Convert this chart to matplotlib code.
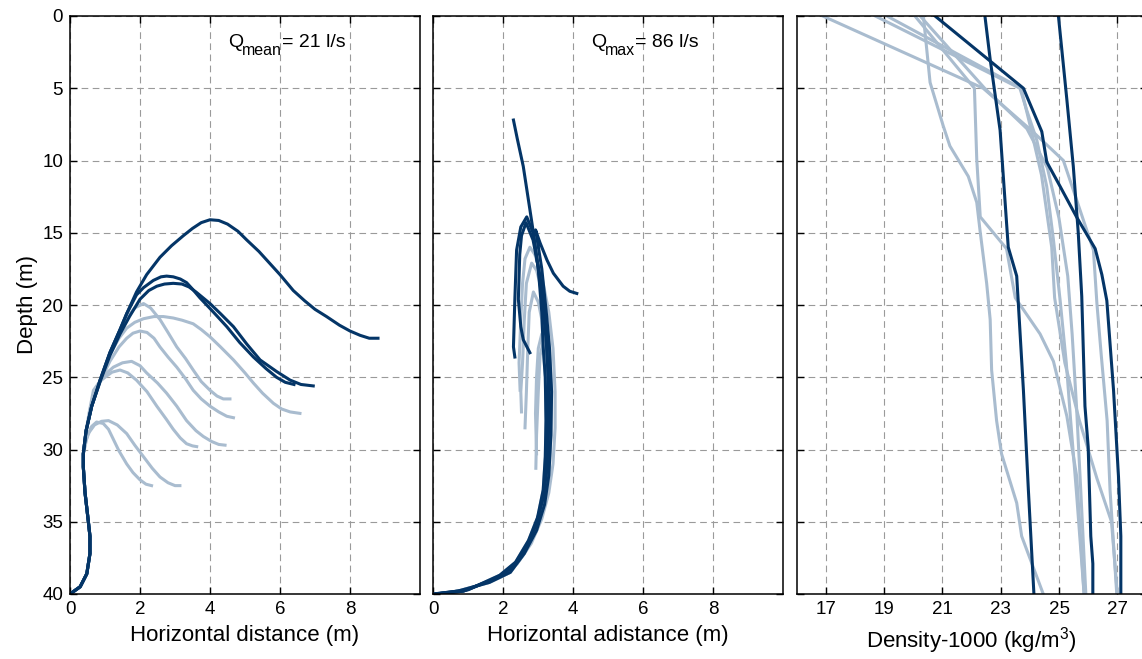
import matplotlib
matplotlib.use("Agg")
import matplotlib.pyplot as plt
import numpy as np

plt.rcParams['font.family'] = ['Liberation Sans', 'DejaVu Sans']
plt.rcParams['mathtext.fontset'] = 'custom'
plt.rcParams['mathtext.rm'] = 'Liberation Sans'

dark = '#043567'
light = '#a9bccf'

# ---------------- panel 1 : Q mean (x, depth) ----------------
trunk1_x = [0.0, 0.29, 0.48, 0.57, 0.57, 0.52, 0.43, 0.38, 0.38]
trunk1_d = [40.0, 39.5, 38.6, 37.2, 36.0, 34.9, 33.0, 31.2, 30.3]

p1_dark = [
    ([0.46, 0.62, 0.86, 1.14, 1.43, 1.62, 1.9, 2.19, 2.57, 2.9, 3.24, 3.5, 3.75, 4.0, 4.25, 4.5, 4.8, 5.05, 5.4, 5.7,
      6.0, 6.38, 6.7, 7.0, 7.33, 7.7, 8.0, 8.29, 8.55, 8.8],
     [28.7, 27.0, 25.2, 23.3, 21.7, 20.6, 19.1, 17.9, 16.7, 15.9, 15.2, 14.7, 14.3, 14.1, 14.15, 14.4, 14.9, 15.5, 16.3, 17.1,
      17.9, 19.0, 19.7, 20.3, 20.8, 21.4, 21.8, 22.1, 22.3, 22.3]),
    ([0.46, 0.62, 0.86, 1.14, 1.43, 1.62, 1.9, 2.1, 2.38, 2.6, 2.76, 2.95, 3.15, 3.33, 3.5, 3.71, 4.1, 4.48, 4.85, 5.24,
      5.6, 5.9, 6.15, 6.4],
     [28.7, 27.0, 25.2, 23.3, 21.7, 20.6, 19.3, 18.8, 18.3, 18.05, 18.0, 18.05, 18.2, 18.45, 18.9, 19.5, 20.5, 21.5, 22.6, 23.6,
      24.4, 25.0, 25.35, 25.5]),
    ([0.46, 0.62, 0.86, 1.14, 1.43, 1.7, 2.0, 2.25, 2.48, 2.7, 2.95, 3.2, 3.4, 3.6, 4.0, 4.3, 4.67, 5.05, 5.43, 5.9,
      6.29, 6.6, 6.95],
     [28.7, 27.0, 25.3, 23.5, 22.0, 20.8, 19.6, 19.0, 18.7, 18.55, 18.5, 18.55, 18.75, 19.1, 19.9, 20.6, 21.5, 22.7, 23.8, 24.6,
      25.2, 25.5, 25.6]),
]
p1_light = [
    ([0.46, 0.62, 0.86, 1.14, 1.4, 1.65, 1.85, 2.1, 2.3, 2.57, 2.8, 3.05, 3.3, 3.52, 3.75, 4.0, 4.2, 4.38, 4.57],
     [28.7, 27.0, 25.2, 23.3, 21.9, 20.8, 20.2, 19.9, 20.2, 21.0, 21.9, 22.9, 23.7, 24.5, 25.3, 25.9, 26.3, 26.5, 26.5]),
    ([0.46, 0.62, 0.86, 1.14, 1.4, 1.62, 1.85, 2.1, 2.4, 2.67, 2.95, 3.2, 3.52, 3.75, 4.0, 4.3, 4.67, 5.0, 5.24, 5.5,
      5.81, 6.05, 6.29, 6.57],
     [28.7, 27.0, 25.3, 23.4, 22.3, 21.6, 21.2, 20.95, 20.8, 20.8, 20.9, 21.05, 21.3, 21.7, 22.2, 22.9, 23.8, 24.7, 25.4, 26.1,
      26.8, 27.2, 27.4, 27.5]),
    ([0.46, 0.62, 0.86, 1.14, 1.4, 1.62, 1.8, 2.0, 2.2, 2.4, 2.57, 2.8, 3.05, 3.3, 3.52, 3.75, 4.0, 4.25, 4.48, 4.67],
     [28.7, 27.0, 25.3, 23.9, 22.9, 22.3, 21.95, 21.8, 21.9, 22.3, 22.9, 23.6, 24.3, 25.1, 25.9, 26.5, 27.0, 27.4, 27.7, 27.8]),
    ([0.46, 0.62, 0.86, 1.05, 1.24, 1.5, 1.76, 2.0, 2.19, 2.5, 2.76, 3.05, 3.33, 3.6, 3.81, 4.05, 4.25, 4.43],
     [28.7, 27.0, 25.2, 24.7, 24.3, 24.0, 23.9, 24.2, 24.7, 25.4, 26.1, 27.0, 28.0, 28.7, 29.1, 29.45, 29.65, 29.7]),
    ([0.46, 0.55, 0.67, 0.85, 1.0, 1.2, 1.43, 1.65, 1.9, 2.2, 2.48, 2.75, 2.95, 3.15, 3.33, 3.5, 3.62],
     [28.7, 27.4, 25.9, 25.3, 25.0, 24.65, 24.5, 24.7, 25.2, 26.0, 27.0, 27.9, 28.6, 29.2, 29.6, 29.75, 29.8]),
    ([0.45, 0.55, 0.7, 0.9, 1.1, 1.35, 1.62, 1.85, 2.1, 2.35, 2.57, 2.8, 3.0, 3.14],
     [29.4, 28.8, 28.3, 28.05, 28.0, 28.3, 28.9, 29.7, 30.5, 31.3, 31.9, 32.3, 32.5, 32.5]),
    ([0.42, 0.5, 0.62, 0.76, 0.95, 1.1, 1.24, 1.4, 1.62, 1.8, 2.0, 2.17, 2.33],
     [29.9, 29.0, 28.4, 28.1, 28.2, 28.6, 29.3, 30.1, 31.0, 31.6, 32.1, 32.4, 32.5]),
]

# ---------------- panel 2 : Q max (x, depth) ----------------
trunk2a_x = [0.05, 0.86, 1.81, 2.29, 2.67, 2.95, 3.14, 3.24, 3.29, 3.29, 3.24]
trunk2a_d = [40.0, 39.8, 38.9, 38.1, 36.7, 35.1, 33.3, 31.4, 28.7, 25.2, 22.9]
trunk2b_x = [0.0, 0.7, 1.6, 2.2, 2.6, 2.95, 3.18, 3.3, 3.36, 3.38, 3.32]
trunk2b_d = [40.0, 39.8, 39.2, 38.5, 37.2, 35.6, 33.8, 31.8, 29.0, 26.0, 23.0]
trunk2c_x = [0.1, 1.0, 1.9, 2.35, 2.72, 2.98, 3.14, 3.2, 3.22, 3.2, 3.14]
trunk2c_d = [40.0, 39.7, 38.7, 37.8, 36.3, 34.7, 32.8, 30.5, 28.0, 25.0, 22.9]

p2_dark = [
    (trunk2a_x + [3.15, 3.0, 2.86, 2.76, 2.57, 2.4, 2.29],
     trunk2a_d + [20.5, 17.5, 15.0, 13.4, 10.4, 8.5, 7.2]),
    (trunk2b_x + [3.24, 3.1, 2.95, 2.92, 3.05, 3.25, 3.43, 3.71, 3.9, 4.1],
     trunk2b_d + [20.8, 17.5, 15.2, 14.8, 15.7, 16.9, 17.8, 18.7, 19.05, 19.2]),
    (trunk2c_x + [3.1, 3.0, 2.85, 2.67, 2.5, 2.38, 2.33, 2.29, 2.33],
     trunk2c_d + [20.5, 17.5, 15.0, 13.9, 14.6, 16.2, 19.6, 22.9, 23.6]),
    (trunk2a_x + [3.2, 3.05, 2.85, 2.65, 2.52, 2.47, 2.43, 2.5, 2.57, 2.76],
     trunk2a_d + [21.0, 18.0, 15.5, 14.3, 15.2, 16.5, 19.6, 21.5, 22.4, 23.3]),
]
p2_light = [
    ([0.05, 1.0, 1.9, 2.4, 2.8, 3.1, 3.3, 3.42, 3.48, 3.48, 3.42, 3.3, 3.1, 2.9, 2.76, 2.62, 2.55, 2.5, 2.45, 2.48],
     [40.0, 39.7, 38.8, 37.9, 36.5, 34.8, 33.0, 31.0, 28.5, 26.0, 23.0, 20.5, 18.0, 16.5, 16.0, 16.8, 18.5, 21.0, 24.0, 25.9]),
    (trunk2b_x + [3.25, 3.1, 2.95, 2.81, 2.66, 2.6, 2.55, 2.5, 2.52],
     trunk2b_d + [21.5, 19.0, 17.6, 17.1, 18.5, 21.0, 24.0, 26.0, 27.4]),
    (trunk2c_x + [3.1, 3.0, 2.86, 2.74, 2.7, 2.66, 2.62],
     trunk2c_d + [21.0, 19.8, 19.1, 20.5, 23.0, 26.0, 28.5]),
    (trunk2a_x[:-1] + [3.22, 3.1, 3.0, 2.95, 2.92, 2.95],
     trunk2a_d[:-1] + [23.5, 22.0, 23.0, 25.0, 27.5, 30.3]),
    (trunk2b_x[:-2] + [3.3, 3.15, 3.05, 3.0, 2.95, 2.93],
     trunk2b_d[:-2] + [24.0, 22.5, 23.5, 26.0, 29.0, 31.3]),
]

# ---------------- panel 3 : density profiles (sigma, depth) ----------------
p3_dark = [
    ([20.75, 23.78, 24.41, 24.58, 25.04, 25.6, 26.24, 26.47, 26.64, 26.87, 27.04, 27.12, 27.12],
     [0.0, 5.0, 8.0, 10.1, 11.8, 13.9, 16.1, 17.9, 19.7, 25.9, 31.9, 36.0, 40.0]),
    ([22.46, 22.64, 22.98, 23.26, 23.55, 23.6, 23.78, 23.95, 24.14],
     [0.0, 3.0, 7.9, 16.0, 18.0, 19.7, 25.9, 32.8, 40.0]),
    ([24.98, 25.27, 25.49, 25.66, 25.78, 25.89, 26.0, 26.09, 26.16, 26.16],
     [0.0, 5.8, 10.4, 15.0, 19.4, 27.0, 29.8, 36.0, 37.9, 40.0]),
]
p3_light = [
    ([20.35, 20.58, 21.03, 21.26, 21.89, 22.18, 22.29, 22.52, 22.64, 22.69, 22.86, 23.03, 23.55, 23.72, 24.46],
     [0.0, 4.6, 7.6, 9.0, 11.1, 12.9, 14.8, 18.5, 21.0, 24.5, 28.0, 30.3, 33.7, 36.0, 40.0]),
    ([16.9, 22.4, 24.1, 25.15, 25.6, 26.18, 26.3, 26.45, 26.65, 26.75, 26.98],
     [0.0, 5.0, 8.0, 10.0, 12.7, 16.2, 19.9, 23.5, 28.0, 32.8, 40.0]),
    ([18.7, 23.66, 23.89, 24.24, 24.58, 24.81, 25.04, 25.25, 25.4, 25.6, 25.86],
     [0.0, 5.0, 6.5, 8.6, 11.8, 15.5, 19.7, 24.0, 28.0, 33.0, 40.0]),
    ([19.1, 23.7, 24.0, 24.4, 24.75, 24.85, 25.2, 25.7, 26.3, 26.8, 27.0],
     [0.0, 5.0, 7.5, 11.0, 16.0, 19.5, 24.0, 28.0, 32.0, 35.0, 40.0]),
    ([20.06, 22.1, 22.18, 22.3, 23.2, 23.5, 24.35, 24.81, 25.27, 25.61, 25.86],
     [0.0, 5.0, 9.9, 13.9, 16.1, 19.5, 22.0, 23.9, 27.7, 31.9, 40.0]),
    ([20.24, 22.45, 23.9, 24.6, 25.0, 25.3, 25.45, 25.6, 25.75, 25.92],
     [0.0, 5.0, 7.8, 10.5, 14.0, 18.0, 22.0, 27.0, 33.0, 40.0]),
]

depth_ticks = [0, 5, 10, 15, 20, 25, 30, 35, 40]
dist_ticks = [0, 2, 4, 6, 8]
dens_ticks = [17, 19, 21, 23, 25, 27]

fig = plt.figure(figsize=(11.42, 6.59), dpi=100)
W, H = 1142.0, 659.0
bottom = (H - 594) / H
height = 578 / H
width = 350 / W
ax1 = fig.add_axes([70 / W, bottom, width, height])
ax2 = fig.add_axes([433.3 / W, bottom, width, height])
ax3 = fig.add_axes([796.5 / W, bottom, width, height])

lw = 2.2

# Q mean panel: trunk + branch
for xs, ds in p1_light:
    ax1.plot(trunk1_x + xs, trunk1_d + ds, color=light, lw=lw, solid_joinstyle='round')
for xs, ds in p1_dark:
    ax1.plot(trunk1_x + xs, trunk1_d + ds, color=dark, lw=lw, solid_joinstyle='round')

for xs, ds in p2_light:
    ax2.plot(xs, ds, color=light, lw=lw, solid_joinstyle='round')
for xs, ds in p2_dark:
    ax2.plot(xs, ds, color=dark, lw=lw, solid_joinstyle='round')

for xs, ds in p3_light:
    ax3.plot(xs, ds, color=light, lw=lw)
for xs, ds in p3_dark:
    ax3.plot(xs, ds, color=dark, lw=lw)

for ax in (ax1, ax2, ax3):
    ax.set_ylim(40, 0)
    ax.set_yticks(depth_ticks)
    ax.grid(True, color='#9a9a9a', linestyle=(0, (6, 4)), linewidth=0.8)
    ax.set_axisbelow(True)
    ax.tick_params(direction='in', top=True, right=True, length=5, width=1,
                   labelsize=13.5, pad=5)
    for s in ax.spines.values():
        s.set_linewidth(1.1)
        s.set_color('black')

for ax in (ax1, ax2):
    ax.set_xlim(0, 10)
    ax.set_xticks(dist_ticks)

ax3.set_xlim(16, 28)
ax3.set_xticks(dens_ticks)
ax2.set_yticklabels([])
ax3.set_yticklabels([])

ax1.set_ylabel('Depth (m)', fontsize=16, labelpad=3)
ax1.set_xlabel('Horizontal distance (m)', fontsize=16, labelpad=5)
ax2.set_xlabel('Horizontal adistance (m)', fontsize=16, labelpad=5)
ax3.set_xlabel('Density-1000 (kg/m$^3$)', fontsize=16, labelpad=5)


# Q labels: MATLAB-style subscript (near full size, lowered)
def q_label(ax, x, y, sub, rest):
    t1 = ax.text(x, y, 'Q', fontsize=14, ha='left', va='bottom')
    t2 = ax.annotate(sub, xy=(1, 0), xycoords=t1, xytext=(-0.5, -5),
                     textcoords='offset points', fontsize=11.5,
                     ha='left', va='bottom')
    ax.annotate(rest, xy=(1, 0), xycoords=t2, xytext=(0, 5),
                textcoords='offset points', fontsize=14,
                ha='left', va='bottom')


q_label(ax1, 4.51, 2.45, 'mean', '= 21 l/s')
q_label(ax2, 4.5, 2.45, 'max', '= 86 l/s')

fig.savefig('out.png', dpi=100)
